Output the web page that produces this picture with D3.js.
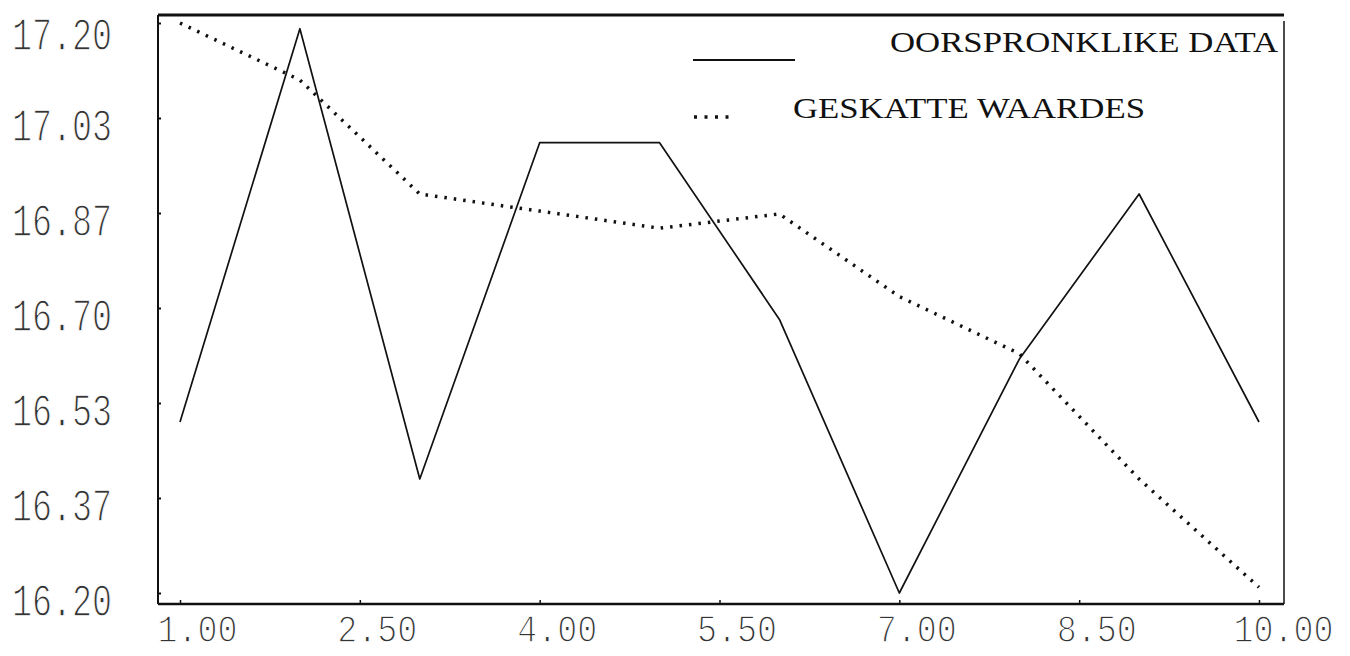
<!DOCTYPE html>
<html>
<head>
<meta charset="utf-8">
<script src="https://cdn.jsdelivr.net/npm/d3@7"></script>
<style>
  html, body { margin: 0; padding: 0; background: #fff; }
  .tick-label { font-family: "Liberation Mono", "DejaVu Sans Mono", monospace; fill: #333; stroke: #fff; stroke-width: 1.3px; }
  .legend { font-family: "Liberation Serif", "DejaVu Serif", serif; fill: #111; }
</style>
</head>
<body>
<div class="canvas"></div>
<script>
// data
const xs = [1, 2, 3, 4, 5, 6, 7, 8, 9, 10];
const original = [16.5, 17.19, 16.4, 16.99, 16.99, 16.68, 16.2, 16.61, 16.9, 16.5];
const estimated = [17.2, 17.1, 16.9, 16.87, 16.84, 16.865, 16.72, 16.62, 16.4, 16.21];

const xTicks = [1, 2.5, 4, 5.5, 7, 8.5, 10];
const xTickLabels = ["1.00", "2.50", "4.00", "5.50", "7.00", "8.50", "10.00"];
const yTicks = [16.2, 16.2 + 1 / 6, 16.2 + 2 / 6, 16.7, 16.2 + 4 / 6, 16.2 + 5 / 6, 17.2];
const yTickLabels = ["16.20", "16.37", "16.53", "16.70", "16.87", "17.03", "17.20"];

const seriesNames = ["OORSPRONKLIKE DATA", "GESKATTE WAARDES"];

const dims = { width: 1350, height: 656 };
const frame = { left: 158, right: 1284, top: 15, bottom: 604 };

const svg = d3
  .select(".canvas")
  .append("svg")
  .attr("width", dims.width)
  .attr("height", dims.height);

const x = d3.scaleLinear().domain([1, 10]).range([180, 1259]);
const y = d3.scaleLinear().domain([16.2, 17.2]).range([593, 23]);

// plot frame
svg.append("line")
  .attr("x1", frame.left).attr("x2", frame.right)
  .attr("y1", frame.top).attr("y2", frame.top)
  .attr("stroke", "#111").attr("stroke-width", 3);
svg.append("line")
  .attr("x1", frame.left).attr("x2", frame.left)
  .attr("y1", frame.top).attr("y2", frame.bottom)
  .attr("stroke", "#111").attr("stroke-width", 2);
svg.append("line")
  .attr("x1", frame.left).attr("x2", frame.right)
  .attr("y1", frame.bottom).attr("y2", frame.bottom)
  .attr("stroke", "#111").attr("stroke-width", 2.5);
svg.append("line")
  .attr("x1", frame.right).attr("x2", frame.right)
  .attr("y1", frame.top + 6).attr("y2", frame.bottom)
  .attr("stroke", "#111").attr("stroke-width", 1.5);

// y axis
const yAxis = d3.axisLeft(y)
  .tickValues(yTicks)
  .tickSize(-3)
  .tickFormat((d, i) => yTickLabels[i]);

const yAxisGroup = svg.append("g")
  .attr("transform", `translate(${frame.left}, 0)`)
  .call(yAxis);
yAxisGroup.select(".domain").remove();
yAxisGroup.selectAll("line").attr("stroke", "#111").attr("stroke-width", 2);
yAxisGroup.selectAll("text")
  .attr("class", "tick-label")
  .attr("text-anchor", "start")
  .attr("x", 12 - frame.left)
  .attr("dy", (d, i) => (i === yTicks.length - 1 ? 26 : 22))
  .attr("font-size", 46)
  .attr("textLength", 100)
  .attr("lengthAdjust", "spacingAndGlyphs");

// x axis
const xAxis = d3.axisBottom(x)
  .tickValues(xTicks)
  .tickSize(-4)
  .tickFormat((d, i) => xTickLabels[i]);

const xAxisGroup = svg.append("g")
  .attr("transform", `translate(0, ${frame.bottom})`)
  .call(xAxis);
xAxisGroup.select(".domain").remove();
xAxisGroup.selectAll("line").attr("stroke", "#111").attr("stroke-width", 1.5);
// labels sit a little right of their ticks
xAxisGroup.selectAll("text")
  .attr("class", "tick-label")
  .attr("text-anchor", "start")
  .attr("x", (d, i) => (i === xTicks.length - 1 ? -26 : -23))
  .attr("y", 38)
  .attr("dy", 0)
  .attr("font-size", 38)
  .attr("textLength", (d, i) => xTickLabels[i].length * 20)
  .attr("lengthAdjust", "spacingAndGlyphs");

// lines
const line = d3.line()
  .x((d) => x(d[0]))
  .y((d) => y(d[1]));

svg.append("path")
  .datum(xs.map((d, i) => [d, estimated[i]]))
  .attr("fill", "none")
  .attr("stroke", "#111")
  .attr("stroke-width", 3.5)
  .attr("stroke-dasharray", "2.5 7")
  .attr("d", line);

svg.append("path")
  .datum(xs.map((d, i) => [d, original[i]]))
  .attr("fill", "none")
  .attr("stroke", "#111")
  .attr("stroke-width", 1.7)
  .attr("stroke-linejoin", "round")
  .attr("d", line);

// legend
const legendGroup = svg.append("g");

legendGroup.append("line")
  .attr("x1", 693).attr("x2", 795)
  .attr("y1", 60).attr("y2", 60)
  .attr("stroke", "#111").attr("stroke-width", 2);

legendGroup.append("line")
  .attr("x1", 694).attr("x2", 730)
  .attr("y1", 117).attr("y2", 117)
  .attr("stroke", "#111").attr("stroke-width", 3.5)
  .attr("stroke-dasharray", "3 7.5");

legendGroup.append("text")
  .attr("class", "legend")
  .attr("x", 890).attr("y", 52)
  .attr("font-size", 30)
  .attr("textLength", 388)
  .attr("lengthAdjust", "spacingAndGlyphs")
  .text(seriesNames[0]);

legendGroup.append("text")
  .attr("class", "legend")
  .attr("x", 793).attr("y", 118)
  .attr("font-size", 30)
  .attr("textLength", 352)
  .attr("lengthAdjust", "spacingAndGlyphs")
  .text(seriesNames[1]);
</script>
</body>
</html>
